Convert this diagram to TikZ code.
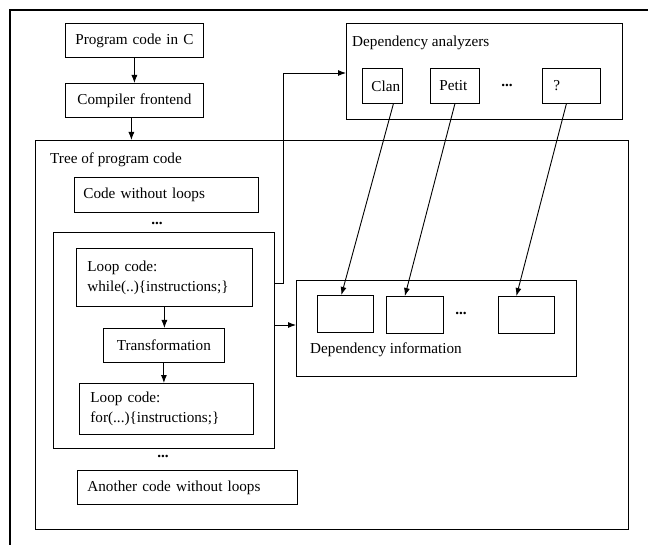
\documentclass[tikz,border=0pt]{standalone}
\usepackage{fontspec}
\setmainfont{Liberation Serif}
\usetikzlibrary{arrows.meta}
\begin{document}
\begin{tikzpicture}[x=1pt,y=-1pt,
  font=\fontsize{15.2pt}{20pt}\selectfont,
  box/.style={draw, line width=0.8pt, inner ysep=0pt, anchor=north west, align=left},
  lbl/.style={inner sep=0pt, anchor=west},
  dots/.style={inner sep=0pt, font=\fontsize{15.2pt}{20pt}\selectfont\bfseries},
  arr/.style={line width=0.9pt, -{Latex[length=8pt,width=6pt]}}]
\useasboundingbox (0,0) rectangle (648,545);
\draw[line width=2pt] (10,545) -- (10,10) -- (648,10);

\node[box, minimum width=138pt, minimum height=34pt, inner xsep=0pt, text width=138pt, align=center] (pc) at (65,23) {Program code in C};
\node[box, minimum width=138pt, minimum height=34pt, inner xsep=0pt, text width=138pt, align=center] (cf) at (65,83) {Compiler frontend};

\node[box, minimum width=593pt, minimum height=389pt] (tree) at (35,140) {};
\node[lbl] (treet) at (50,160) {Tree of program code};
\node[box, minimum width=184pt, minimum height=35pt, inner xsep=9pt, text width=166pt] (cwl) at (74,177) {Code without loops};
\node[dots] (dots1) at (157,223) {...};
\node[box, minimum width=221pt, minimum height=216pt] (loop) at (53,232) {};
\node[box, minimum width=176pt, minimum height=58pt, inner xsep=11pt, text width=154pt] (wb) at (76,248) {Loop code:\\while(..)\{instructions;\}};
\node[box, minimum width=121pt, minimum height=34pt, inner xsep=0pt, text width=121pt, align=center] (tr) at (103,328) {Transformation};
\node[box, minimum width=174pt, minimum height=51pt, inner xsep=11pt, text width=152pt] (fb) at (79,383) {Loop code:\\for(...)\{instructions;\}};
\node[dots] (dots2) at (163,456) {...};
\node[box, minimum width=220pt, minimum height=34pt, inner xsep=10pt, text width=200pt] (acw) at (77,470) {Another code without loops};

\node[box, minimum width=276pt, minimum height=96pt] (da) at (346,23) {};
\node[lbl] (dat) at (352,43) {Dependency analyzers};
\node[box, minimum width=40pt, minimum height=35pt, inner xsep=9pt, text width=22pt] (clan) at (362,68) {Clan};
\node[box, minimum width=49pt, minimum height=35pt, inner xsep=9pt, text width=31pt] (petit) at (430,68) {Petit};
\node[dots] (dots3) at (507,85) {...};
\node[box, minimum width=58pt, minimum height=35pt, inner xsep=11pt, text width=36pt] (q) at (542,68) {?};

\node[box, minimum width=280pt, minimum height=96pt] (di) at (296,280) {};
\node[box, minimum width=56pt, minimum height=37pt] (d1) at (317,295) {};
\node[box, minimum width=57pt, minimum height=37pt] (d2) at (386,296) {};
\node[dots] (dots4) at (461,313) {...};
\node[box, minimum width=56pt, minimum height=37pt] (d3) at (498,296) {};
\node[lbl] (dit) at (310,350) {Dependency information};

\draw[arr] (pc) -- (cf);
\draw[arr] ([xshift=-3pt]cf.south) -- ([xshift=-3pt]cf.south |- tree.north);
\draw[arr] (wb.south) -- (wb.south |- tr.north);
\draw[arr] (tr.south) -- (tr.south |- fb.north);
\draw[arr] (loop.east |- 0,283) -- (283,283) -- (283,73) -- (da.west |- 0,73);
\draw[arr] (loop.east |- 0,325) -- (di.west |- 0,325);
\draw[arr] ([xshift=11pt]clan.south) -- ([xshift=-4pt]d1.north);
\draw[arr] (petit.south) -- ([xshift=-10pt]d2.north);
\draw[arr] ([xshift=-5pt]q.south) -- ([xshift=-10pt]d3.north);
\end{tikzpicture}
\end{document}
